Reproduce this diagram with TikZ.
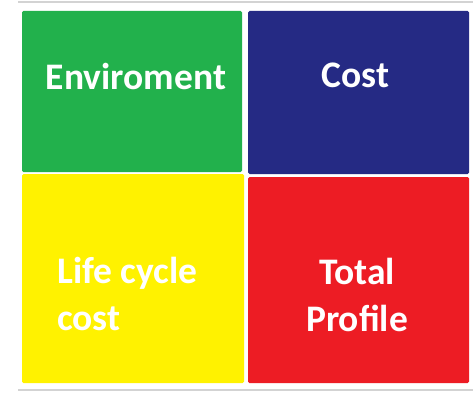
\documentclass[tikz,border=0pt]{standalone}
\usepackage{fontspec}
\setmainfont{Carlito}
\definecolor{envgreen}{HTML}{22B14C}
\definecolor{costblue}{HTML}{252A84}
\definecolor{lccyellow}{HTML}{FFF200}
\definecolor{profred}{HTML}{ED1C24}
\definecolor{rulegray}{HTML}{D3D3D3}
\begin{document}
\begin{tikzpicture}[x=1pt,y=-1pt,
  quad/.style={draw=none, inner sep=0pt, rounded corners=1.5pt},
  word/.style={text=white, font=\fontsize{37.5}{47}\selectfont\bfseries, inner sep=0pt}]
\useasboundingbox (0,0) rectangle (473,393);
\fill[white] (0,0) rectangle (473,393);
% thin rules above and below the grid
\coordinate (tl) at (18,2.5);
\coordinate (tr) at (473,2.5);
\coordinate (bl) at (18,389.5);
\coordinate (br) at (473,389.5);
\draw[rulegray, line width=2pt] (tl) -- (tr);
\draw[rulegray, line width=2pt] (bl) -- (br);
% the four quadrants
\node[quad, fill=envgreen, minimum width=220pt, minimum height=161pt] (env) at (132,91.5) {};
\node[quad, fill=costblue, minimum width=221pt, minimum height=163pt] (cost) at (358.5,92.5) {};
\node[quad, fill=lccyellow, minimum width=222pt, minimum height=209pt] (lcc) at (133,278.5) {};
\node[quad, fill=profred, minimum width=221pt, minimum height=206pt] (prof) at (358.5,280) {};
% labels (base anchors of two-line labels sit on the last line)
\node[word, anchor=base] (envt) at (136,90) {Enviroment};
\node[word, anchor=base] (costt) at (355.5,88) {Cost};
\node[word, anchor=base west, align=left] (lcct) at (57,330) {Life cycle\\cost};
\node[word, anchor=base, align=center] (proft) at (357,331) {Total\\Profile};
\end{tikzpicture}
\end{document}
